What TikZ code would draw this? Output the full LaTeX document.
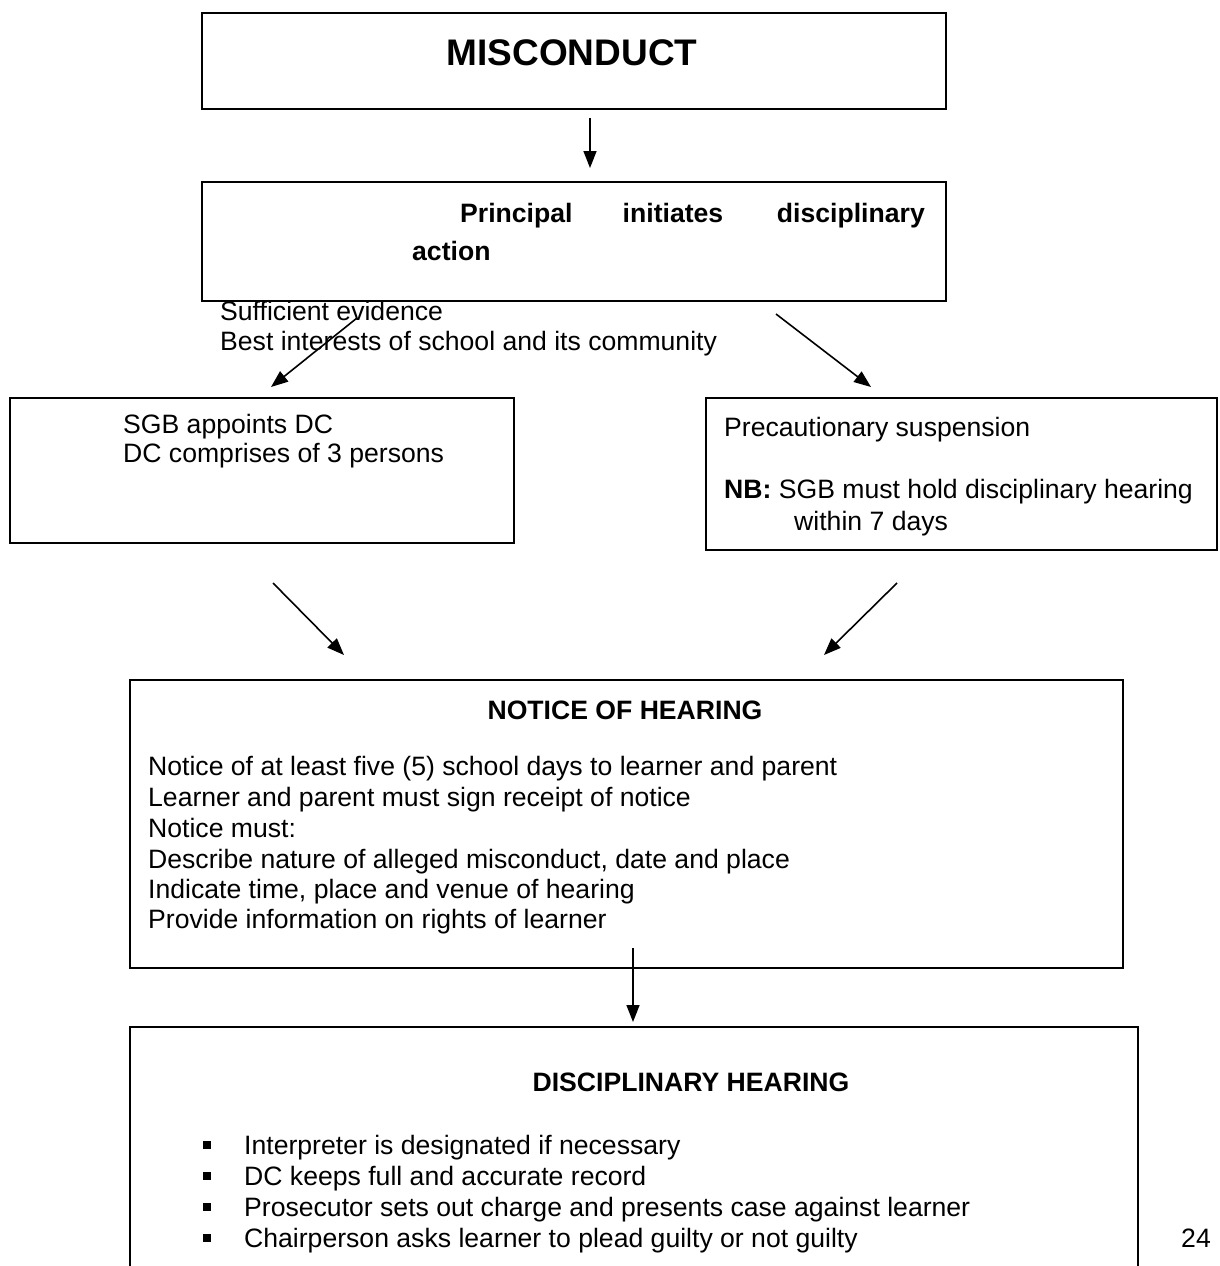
\documentclass[tikz,border=0pt]{standalone}
\usepackage{fontspec}
\setmainfont{Liberation Sans}
\usetikzlibrary{arrows.meta}
\begin{document}
\begin{tikzpicture}[x=1pt,y=-1pt,
  box/.style={draw,line width=1.6pt,inner sep=0pt,anchor=north west},
  txt/.style={anchor=base west,inner sep=0pt,font=\fontsize{26.6}{30.5}\selectfont},
  btxt/.style={anchor=base,inner sep=0pt,font=\fontsize{26.6}{30.5}\selectfont\bfseries},
  arr/.style={line width=1.6pt,-{Triangle[length=17pt,width=13pt]}}]
\useasboundingbox (0,0) rectangle (1220,1266);
\clip (0,0) rectangle (1220,1266);
\fill[white] (0,0) rectangle (1220,1266);
% boxes
\node[box,minimum width=744,minimum height=96] (mis) at (201,12) {};
\node[box,minimum width=744,minimum height=119] (prin) at (201,181) {};
\node[box,minimum width=504,minimum height=145] (sgb) at (9,397) {};
\node[box,minimum width=511,minimum height=152] (prec) at (705,397) {};
\node[box,minimum width=993,minimum height=288] (notice) at (129,679) {};
\node[box,minimum width=1008,minimum height=280] (hear) at (129,1026) {};
% texts
\node[anchor=base,inner sep=0pt,font=\fontsize{37}{42}\selectfont\bfseries] (t1) at (572,65) {MISCONDUCT};
\node[btxt,anchor=base west] (p1) at (460,222) {Principal};
\node[btxt] (p2) at (673,222) {initiates};
\node[btxt,anchor=base east] (p3) at (925,222) {disciplinary};
\node[btxt,anchor=base west] (p4) at (412,260) {action};
\node[txt] (s1) at (220,320) {Sufficient evidence};
\node[txt] (s2) at (220,350) {Best interests of school and its community};
\node[txt] (g1) at (123,433) {SGB appoints DC};
\node[txt] (g2) at (123,462) {DC comprises of 3 persons};
\node[txt] (c1) at (724,436) {Precautionary suspension};
\node[txt] (c2) at (724,498) {\textbf{NB:} SGB must hold disciplinary hearing};
\node[txt] (c3) at (794,530) {within 7 days};
\node[btxt] (n0) at (625,719) {NOTICE OF HEARING};
\node[txt] (n1) at (148,775) {Notice of at least five (5) school days to learner and parent};
\node[txt] (n2) at (148,806) {Learner and parent must sign receipt of notice};
\node[txt] (n3) at (148,837) {Notice must:};
\node[txt] (n4) at (148,868) {Describe nature of alleged misconduct, date and place};
\node[txt] (n5) at (148,898) {Indicate time, place and venue of hearing};
\node[txt] (n6) at (148,928) {Provide information on rights of learner};
\node[btxt] (h0) at (691,1091) {DISCIPLINARY HEARING};
\node[txt] (h1) at (203,1154) {\makebox[41pt][l]{\rule[5pt]{8pt}{8pt}}Interpreter is designated if necessary};
\node[txt] (h2) at (203,1185) {\makebox[41pt][l]{\rule[5pt]{8pt}{8pt}}DC keeps full and accurate record};
\node[txt] (h3) at (203,1216) {\makebox[41pt][l]{\rule[5pt]{8pt}{8pt}}Prosecutor sets out charge and presents case against learner};
\node[txt] (h4) at (203,1247) {\makebox[41pt][l]{\rule[5pt]{8pt}{8pt}}Chairperson asks learner to plead guilty or not guilty};
\node[txt] (pg) at (1181,1247) {24};
% arrow ends
\coordinate (a1s) at (590,118); \coordinate (a1e) at (590,168);
\coordinate (a2s) at (357,318); \coordinate (a2e) at (271,387);
\coordinate (a3s) at (776,314); \coordinate (a3e) at (871,387);
\coordinate (a4s) at (273,583); \coordinate (a4e) at (344,655);
\coordinate (a5s) at (897,583); \coordinate (a5e) at (824,655);
\coordinate (a6s) at (633,948); \coordinate (a6e) at (633,1022);
\draw[arr] (a1s) -- (a1e);
\draw[arr] (a2s) -- (a2e);
\draw[arr] (a3s) -- (a3e);
\draw[arr] (a4s) -- (a4e);
\draw[arr] (a5s) -- (a5e);
\draw[arr] (a6s) -- (a6e);
\end{tikzpicture}
\end{document}
